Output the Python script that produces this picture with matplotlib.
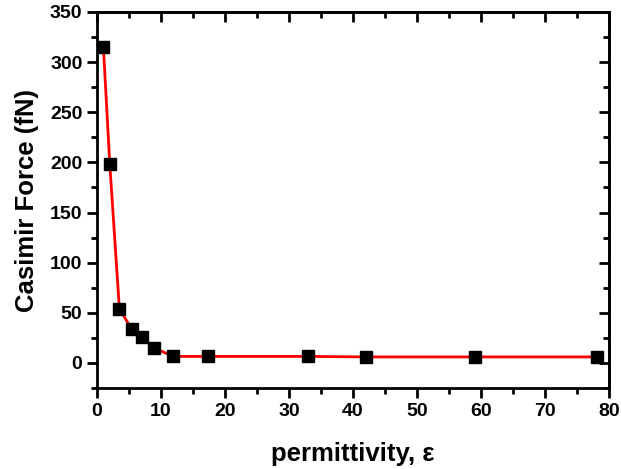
import matplotlib
matplotlib.use("Agg")
import matplotlib.pyplot as plt
from matplotlib.ticker import MultipleLocator

permittivity = [1, 2, 3.5, 5.4, 7, 8.9, 11.9, 17.4, 32.9, 42, 59, 78.1]
force = [315, 198, 54, 34, 25.5, 15, 6.5, 6.5, 6.5, 6, 6, 6]

plt.rcParams['font.family'] = ['Liberation Sans', 'DejaVu Sans']
plt.rcParams['font.weight'] = 'bold'

fig = plt.figure(figsize=(6.21, 4.69), dpi=100)
ax = fig.add_axes([97/621, 81/469, (609-97)/621, (388-12)/469])

ax.plot(permittivity, force, color='#ff0000', lw=2, zorder=2)
ax.plot(permittivity, force, ls='none', marker='s', ms=9, color='black', zorder=3)

ax.set_xlim(0, 80)
ax.set_ylim(-25, 350)
ax.xaxis.set_major_locator(MultipleLocator(10))
ax.xaxis.set_minor_locator(MultipleLocator(5))
ax.yaxis.set_major_locator(MultipleLocator(50))
ax.yaxis.set_minor_locator(MultipleLocator(25))

for s in ax.spines.values():
    s.set_linewidth(2)

ax.tick_params(which='both', direction='out', width=2, labelsize=14)
ax.tick_params(which='major', length=7)
ax.tick_params(which='minor', length=4)
ax.tick_params(axis='both', which='both', top=False, right=False)

axt = ax.secondary_xaxis('top')
axt.xaxis.set_major_locator(MultipleLocator(10))
axt.xaxis.set_minor_locator(MultipleLocator(5))
axt.tick_params(which='both', direction='in', width=2, labeltop=False)
axt.tick_params(which='major', length=7)
axt.tick_params(which='minor', length=4)
axt.spines['top'].set_linewidth(2)

ayr = ax.secondary_yaxis('right')
ayr.yaxis.set_major_locator(MultipleLocator(50))
ayr.yaxis.set_minor_locator(MultipleLocator(25))
ayr.tick_params(which='both', direction='in', width=2, labelright=False)
ayr.tick_params(which='major', length=7)
ayr.tick_params(which='minor', length=4)
ayr.spines['right'].set_linewidth(2)

for lab in ax.get_xticklabels() + ax.get_yticklabels():
    lab.set_fontweight('bold')

ax.set_xlabel('permittivity, ε', fontsize=18.5, fontweight='bold', labelpad=16)
ax.set_ylabel('Casimir Force (fN)', fontsize=18.5, fontweight='bold', labelpad=8)

fig.savefig('out.png', dpi=100)
